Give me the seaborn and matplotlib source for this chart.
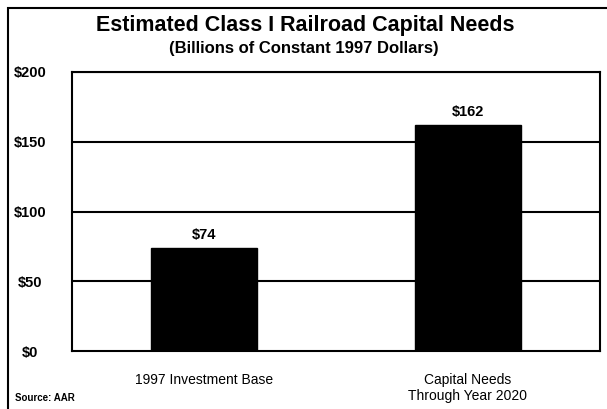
import matplotlib
matplotlib.use("Agg")
import matplotlib.pyplot as plt
import seaborn as sns
import pandas as pd
from matplotlib.patches import Rectangle

categories = ["1997 Investment Base", "Capital Needs\nThrough Year 2020"]
values = [74, 162]
value_labels = ["$74", "$162"]
yticks = [0, 50, 100, 150, 200]
ytick_labels = ["$0", "$50", "$100", "$150", "$200"]

sns.set_theme(style="white")
plt.rcParams['font.family'] = ['Liberation Sans', 'DejaVu Sans']
plt.rcParams['text.color'] = 'black'
plt.rcParams['xtick.color'] = 'black'
plt.rcParams['ytick.color'] = 'black'

fig = plt.figure(figsize=(6.07, 4.09), dpi=100)
ax = fig.add_axes([72/607, 1-351/409, 528/607, (351-72)/409])

df = pd.DataFrame({"cat": categories, "val": values})
sns.barplot(data=df, x="cat", y="val", color="black", width=0.4, ax=ax,
            saturation=1, edgecolor="black")

ax.set_ylim(0, 200)
ax.set_xlim(-0.5, 1.5)
ax.set_yticks(yticks)
ax.set_yticklabels(ytick_labels, fontsize=10.5, fontweight="bold")
for y in yticks[1:]:
    ax.axhline(y, color="black", lw=1.5, zorder=0)
ax.set_xlabel("")
ax.set_ylabel("")
ax.set_xticks([0, 1])
ax.set_xticklabels(categories, fontsize=10, linespacing=1.15)
ax.tick_params(axis="x", length=0, pad=16)
ax.tick_params(axis="y", length=0, pad=30)
for lbl in ax.get_yticklabels():
    lbl.set_horizontalalignment("center")
for s in ax.spines.values():
    s.set_color("black")
    s.set_linewidth(1.5)

for i, (v, t) in enumerate(zip(values, value_labels)):
    ax.text(i, v + 4, t, ha="center", va="bottom", fontsize=10.5, fontweight="bold")

fig.text(0.503, 1-26/409, "Estimated Class I Railroad Capital Needs", ha="center",
         va="center", fontsize=15.5, fontweight="bold")
fig.text(0.5, 1-48/409, "(Billions of Constant 1997 Dollars)", ha="center",
         va="center", fontsize=12, fontweight="bold")
fig.text(15/607, 1-398/409, "Source: AAR", ha="left", va="center",
         fontsize=7, fontweight="bold")

fig.patches.append(Rectangle((8/607, -0.05), 1.2, 1-8/409+0.05, transform=fig.transFigure,
                             fill=False, edgecolor="black", lw=1.5))

fig.savefig("out.png", dpi=100)
